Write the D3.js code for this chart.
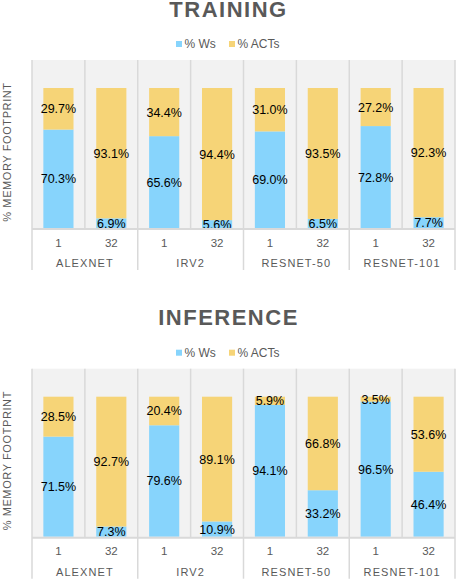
<!DOCTYPE html>
<html>
<head>
<meta charset="utf-8">
<script src="https://cdn.jsdelivr.net/npm/d3@7"></script>
<style>
  body { margin: 0; background: #fff; }
  text { font-family: "Liberation Sans", Arial, sans-serif; }
</style>
</head>
<body>
<svg id="chart"></svg>
<script>
// data
const models = ["ALEXNET", "IRV2", "RESNET-50", "RESNET-101"];
const batchSizes = ["1", "32"];
const seriesNames = ["% Ws", "% ACTs"];

const trainingWs = [70.3, 6.9, 65.6, 5.6, 69.0, 6.5, 72.8, 7.7];
const trainingActs = [29.7, 93.1, 34.4, 94.4, 31.0, 93.5, 27.2, 92.3];
const inferenceWs = [71.5, 7.3, 79.6, 10.9, 94.1, 33.2, 96.5, 46.4];
const inferenceActs = [28.5, 92.7, 20.4, 89.1, 5.9, 66.8, 3.5, 53.6];

const colors = { ws: "#87d4fc", acts: "#f6d477" };
const grey = "#595959";
const lineColor = "#d9d9d9";

const width = 456, height = 580;

const svg = d3.select("#chart")
    .attr("width", width)
    .attr("height", height);

const plot = { left: 32, right: 455 };

function drawPanel(title, wsValues, actValues, offsetY) {
    const g = svg.append("g").attr("transform", `translate(0,${offsetY})`);

    const plotTop = 60, barTop = 88, barBottom = 228;

    // rows: one per model/batch pair
    const rows = [];
    models.forEach((m, i) => {
        batchSizes.forEach((b, j) => {
            const k = i * batchSizes.length + j;
            rows.push({ model: m, batch: b, ws: wsValues[k], acts: actValues[k] });
        });
    });

    const x0 = d3.scaleBand().domain(models).range([plot.left, plot.right]);
    const x1 = d3.scaleBand().domain(batchSizes).range([0, x0.bandwidth()])
        .paddingInner(0.43).paddingOuter(0.215);
    const xCat = d3.scaleBand().domain(batchSizes).range([0, x0.bandwidth()]);
    const y = d3.scaleLinear().domain([0, 100]).range([barBottom, barTop]);

    // title
    g.append("text")
        .attr("x", width / 2 + 0.5)
        .attr("y", 16.5)
        .attr("text-anchor", "middle")
        .attr("font-size", 22)
        .attr("font-weight", "bold")
        .attr("letter-spacing", 1.5)
        .attr("fill", grey)
        .text(title);

    // legend
    const legend = g.append("g").attr("transform", "translate(0,44)");
    const legendX = [176, 229];
    [colors.ws, colors.acts].forEach((c, i) => {
        legend.append("rect")
            .attr("x", legendX[i]).attr("y", -3)
            .attr("width", 6).attr("height", 6)
            .attr("fill", c);
        legend.append("text")
            .attr("x", legendX[i] + 8.5).attr("y", 4)
            .attr("font-size", 12)
            .attr("fill", grey)
            .text(seriesNames[i]);
    });

    // plot background
    g.append("rect")
        .attr("x", plot.left).attr("y", plotTop)
        .attr("width", plot.right - plot.left)
        .attr("height", barBottom + 1 - plotTop)
        .attr("fill", "#f2f2f2");

    // inner separators between batch sizes
    models.forEach(m => {
        const xs = x0(m) + xCat("32");
        g.append("line")
            .attr("x1", xs).attr("x2", xs)
            .attr("y1", plotTop).attr("y2", barBottom + 1)
            .attr("stroke", lineColor).attr("stroke-width", 1.5);
    });

    // group separators running down into the label area
    const groupEdges = models.map(m => x0(m)).concat([plot.right]);
    groupEdges.forEach(xe => {
        g.append("line")
            .attr("x1", xe).attr("x2", xe)
            .attr("y1", plotTop).attr("y2", 270)
            .attr("stroke", lineColor).attr("stroke-width", 1.5);
    });

    // stacked bars
    const bars = g.append("g");
    const bx = d => x0(d.model) + x1(d.batch);

    bars.selectAll(".ws")
        .data(rows)
        .join("rect")
        .attr("class", "ws")
        .attr("x", bx)
        .attr("width", x1.bandwidth())
        .attr("y", d => y(d.ws))
        .attr("height", d => y(0) - y(d.ws))
        .attr("fill", colors.ws);

    bars.selectAll(".acts")
        .data(rows)
        .join("rect")
        .attr("class", "acts")
        .attr("x", bx)
        .attr("width", x1.bandwidth())
        .attr("y", d => y(d.ws + d.acts))
        .attr("height", d => y(d.ws) - y(d.ws + d.acts))
        .attr("fill", colors.acts);

    // value labels centred in each segment
    const labels = g.append("g")
        .attr("font-size", 12.5)
        .attr("fill", "#000")
        .attr("text-anchor", "middle");

    labels.selectAll(".lws")
        .data(rows)
        .join("text")
        .attr("x", d => bx(d) + x1.bandwidth() / 2)
        .attr("y", d => (y(0) + y(d.ws)) / 2)
        .attr("dy", "0.36em")
        .text(d => d.ws.toFixed(1) + "%");

    labels.selectAll(".lacts")
        .data(rows)
        .join("text")
        .attr("x", d => bx(d) + x1.bandwidth() / 2)
        .attr("y", d => (y(d.ws) + y(d.ws + d.acts)) / 2)
        .attr("dy", "0.36em")
        .text(d => d.acts.toFixed(1) + "%");

    // axis line
    g.append("line")
        .attr("x1", plot.left).attr("x2", plot.right)
        .attr("y1", barBottom + 1).attr("y2", barBottom + 1)
        .attr("stroke", lineColor).attr("stroke-width", 2);

    // batch size tick labels
    g.append("g").selectAll("text")
        .data(rows)
        .join("text")
        .attr("x", d => x0(d.model) + xCat(d.batch) + xCat.bandwidth() / 2)
        .attr("y", 242.5)
        .attr("dy", "0.36em")
        .attr("text-anchor", "middle")
        .attr("font-size", 11.5)
        .attr("fill", grey)
        .text(d => d.batch);

    // model group labels
    g.append("g").selectAll("text")
        .data(models)
        .join("text")
        .attr("x", d => x0(d) + x0.bandwidth() / 2)
        .attr("y", 263)
        .attr("dy", "0.36em")
        .attr("text-anchor", "middle")
        .attr("font-size", 11)
        .attr("letter-spacing", 1.1)
        .attr("fill", grey)
        .text(d => d);

    // y axis title
    g.append("text")
        .attr("transform", `translate(11,${152}) rotate(-90)`)
        .attr("text-anchor", "middle")
        .attr("font-size", 11)
        .attr("letter-spacing", 0.6)
        .attr("fill", grey)
        .text("% MEMORY FOOTPRINT");
}

drawPanel("TRAINING", trainingWs, trainingActs, 0);
drawPanel("INFERENCE", inferenceWs, inferenceActs, 308.7);
</script>
</body>
</html>
